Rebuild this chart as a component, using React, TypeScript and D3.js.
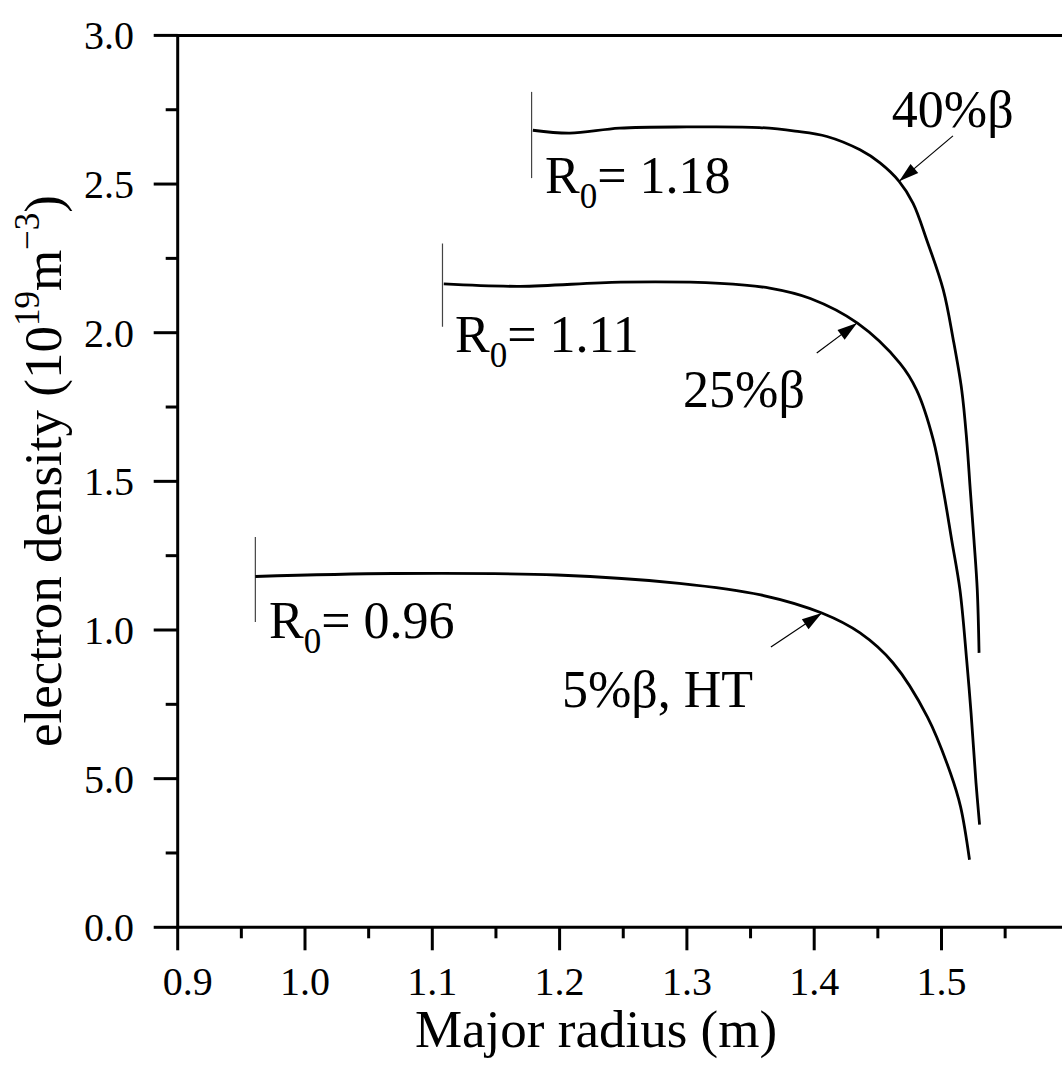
import React from 'react';
import * as d3 from 'd3';

// ---- Data ----
const xTickValues = [0.9, 1.0, 1.1, 1.2, 1.3, 1.4, 1.5];
const xTickLabels = ['0.9', '1.0', '1.1', '1.2', '1.3', '1.4', '1.5'];
const yTickValues = [0, 0.5, 1.0, 1.5, 2.0, 2.5, 3.0];
const yTickLabels = ['0.0', '5.0', '1.0', '1.5', '2.0', '2.5', '3.0'];

// 40% beta, R0 = 1.18
const radius40 = [1.179, 1.208, 1.247, 1.3, 1.357, 1.385, 1.41, 1.436, 1.4517, 1.4667, 1.4777, 1.4884, 1.5014, 1.5093, 1.5159, 1.5198, 1.5226, 1.5255, 1.5281, 1.5295];
const density40 = [2.681, 2.671, 2.688, 2.692, 2.69, 2.678, 2.66, 2.615, 2.571, 2.509, 2.435, 2.312, 2.144, 1.975, 1.807, 1.639, 1.471, 1.303, 1.135, 0.923];

// 25% beta, R0 = 1.11
const radius25 = [1.109, 1.169, 1.248, 1.326, 1.365, 1.397, 1.434, 1.4674, 1.4805, 1.4936, 1.5014, 1.508, 1.5145, 1.5198, 1.5232, 1.5271, 1.5299];
const density25 = [2.164, 2.156, 2.17, 2.166, 2.15, 2.115, 2.032, 1.897, 1.807, 1.639, 1.471, 1.303, 1.135, 0.898, 0.722, 0.486, 0.345];

// 5% beta, HT, R0 = 0.96
const radius5 = [0.961, 1.069, 1.198, 1.294, 1.358, 1.406, 1.436, 1.462, 1.489, 1.507, 1.515, 1.522];
const density5 = [1.18, 1.19, 1.185, 1.157, 1.118, 1.057, 0.99, 0.889, 0.707, 0.519, 0.405, 0.227];

const seriesLabels = ['40%β', '25%β', '5%β, HT'];
const r0Values = ['1.18', '1.11', '0.96'];
const r0MarkerX = [1.178, 1.108, 0.961];
const r0MarkerLow = [2.52, 2.02, 1.027];
const r0MarkerHigh = [2.81, 2.3, 1.313];

// annotation anchors (data coords)
const seriesLabelPos = [[1.461, 2.692], [1.297, 1.75], [1.2018, 0.741]];
const arrowTail = [[1.509, 2.662], [1.402, 1.932], [1.366, 0.943]];
const arrowTip = [[1.4667, 2.509], [1.4337, 2.033], [1.406, 1.057]];
const r0LabelPos = [[1.1886, 2.47], [1.1179, 1.935], [0.9717, 0.973]];

const FONT = '"Liberation Serif", "Times New Roman", Times, serif';

export default function App() {
  const W = 1062, H = 1072;
  const left = 177.7, bottom = 927.3, top = 35.4;
  const x = d3.scaleLinear().domain([0.9, 1.6]).range([left, left + 7 * 127.3]);
  const y = d3.scaleLinear().domain([0, 3]).range([bottom, top]);
  const line = d3.line<[number, number]>().x(d => x(d[0])).y(d => y(d[1])).curve(d3.curveCatmullRom.alpha(0.5));

  const series = [
    d3.zip(radius40, density40) as [number, number][],
    d3.zip(radius25, density25) as [number, number][],
    d3.zip(radius5, density5) as [number, number][],
  ];

  const xMinor = d3.range(0, 14).map(i => 0.95 + i * 0.1).filter(v => v < 1.6);
  const yMinor = d3.range(0, 6).map(i => 0.25 + i * 0.5);

  const arrowHead = (tail: number[], tip: number[]) => {
    const x1 = x(tail[0]), y1 = y(tail[1]), x2 = x(tip[0]), y2 = y(tip[1]);
    const ang = Math.atan2(y2 - y1, x2 - x1);
    const L = 20, Wd = 6;
    const bx = x2 - L * Math.cos(ang), by = y2 - L * Math.sin(ang);
    const px = -Math.sin(ang) * Wd, py = Math.cos(ang) * Wd;
    return `M${x2},${y2}L${bx + px},${by + py}L${bx - px},${by - py}Z`;
  };

  return (
    <svg width={W} height={H} style={{ position: 'absolute', left: 0, top: 0, background: '#fff' }} fontFamily={FONT}>
      <rect x={0} y={0} width={W} height={H} fill="#fff" />
      {/* frame */}
      <line x1={left} x2={W + 10} y1={y(3)} y2={y(3)} stroke="#000" strokeWidth={3} />
      <line x1={left} x2={W + 10} y1={bottom} y2={bottom} stroke="#000" strokeWidth={3} />
      <line x1={left} x2={left} y1={y(3) - 1.5} y2={bottom + 1.5} stroke="#000" strokeWidth={3} />

      {/* x ticks */}
      {xTickValues.map((v, i) => (
        <g key={'xt' + i}>
          <line x1={x(v)} x2={x(v)} y1={bottom} y2={bottom + 23} stroke="#000" strokeWidth={3} />
          <text x={x(v) + (i === 0 ? 10 : 0)} y={995} textAnchor="middle" fontSize={40}>{xTickLabels[i]}</text>
        </g>
      ))}
      {xMinor.map((v, i) => (
        <line key={'xm' + i} x1={x(v)} x2={x(v)} y1={bottom} y2={bottom + 11} stroke="#000" strokeWidth={3} />
      ))}

      {/* y ticks */}
      {yTickValues.map((v, i) => (
        <g key={'yt' + i}>
          <line x1={left - 24} x2={left} y1={y(v)} y2={y(v)} stroke="#000" strokeWidth={3} />
          <text x={134} y={y(v) + 14} textAnchor="end" fontSize={40}>{yTickLabels[i]}</text>
        </g>
      ))}
      {yMinor.map((v, i) => (
        <line key={'ym' + i} x1={left - 12} x2={left} y1={y(v)} y2={y(v)} stroke="#000" strokeWidth={3} />
      ))}

      {/* axis titles */}
      <text x={596} y={1047} textAnchor="middle" fontSize={53}>Major radius (m)</text>
      <text transform={`translate(61,471) rotate(-90)`} textAnchor="middle" fontSize={53}>
        electron density (10<tspan dy={-22} fontSize={35}>19</tspan><tspan dy={22}>m</tspan><tspan dy={-22} fontSize={35}>−3</tspan><tspan dy={22}>)</tspan>
      </text>

      {/* R0 markers */}
      {r0MarkerX.map((v, i) => (
        <line key={'mk' + i} x1={x(v)} x2={x(v)} y1={y(r0MarkerLow[i])} y2={y(r0MarkerHigh[i])} stroke="#444" strokeWidth={1.2} />
      ))}

      {/* curves */}
      {series.map((s, i) => (
        <path key={'s' + i} d={line(s) || ''} fill="none" stroke="#000" strokeWidth={2.8} strokeLinejoin="round" />
      ))}

      {/* arrows */}
      {arrowTail.map((t, i) => (
        <g key={'ar' + i}>
          <line x1={x(t[0])} y1={y(t[1])} x2={x(arrowTip[i][0])} y2={y(arrowTip[i][1])} stroke="#000" strokeWidth={1.2} />
          <path d={arrowHead(t, arrowTip[i])} fill="#000" />
        </g>
      ))}

      {/* series labels */}
      {seriesLabels.map((s, i) => (
        <text key={'sl' + i} x={x(seriesLabelPos[i][0])} y={y(seriesLabelPos[i][1])} fontSize={52}>{s}</text>
      ))}

      {/* R0 labels */}
      {r0Values.map((s, i) => (
        <text key={'r0' + i} x={x(r0LabelPos[i][0])} y={y(r0LabelPos[i][1])} fontSize={52}>
          R<tspan dy={15} fontSize={35}>0</tspan><tspan dy={-15}>= {s}</tspan>
        </text>
      ))}
    </svg>
  );
}
